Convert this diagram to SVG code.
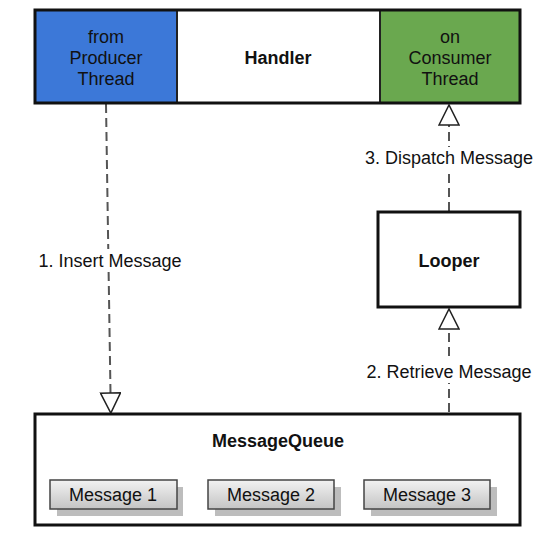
<svg xmlns="http://www.w3.org/2000/svg" width="558" height="546" viewBox="0 0 558 546">
<defs>
<linearGradient id="msgGrad" x1="0" y1="0" x2="0" y2="1">
<stop offset="0" stop-color="#f2f2f2"/>
<stop offset="1" stop-color="#c4c4c4"/>
</linearGradient>
<marker id="openTri" markerWidth="24" markerHeight="22" refX="1" refY="11" orient="auto" markerUnits="userSpaceOnUse">
<path d="M1,1 L21,11 L1,21 Z" fill="#fff" stroke="#222" stroke-width="1.5"/>
</marker>
</defs>
<style>
text{font-family:"Liberation Sans",Arial,sans-serif;fill:#111;}
.t{font-size:18px;text-anchor:middle;}
.b{font-size:18px;font-weight:bold;text-anchor:middle;}
.box{stroke:#111;stroke-width:3;}
.conn{stroke:#555;stroke-width:2;stroke-dasharray:9 5;fill:none;}
.msg{fill:url(#msgGrad);stroke:#444;stroke-width:1.5;}
.shadow{fill:#bdbdbd;}
.lbl{fill:#fff;}
</style>
<rect width="558" height="546" fill="#fff"/>
<g id="connectors">
<line class="conn" x1="106" y1="104" x2="110.5" y2="393" marker-end="url(#openTri)"/>
<line class="conn" x1="449" y1="211" x2="449" y2="125" marker-end="url(#openTri)"/>
<line class="conn" x1="449" y1="412" x2="449" y2="329" marker-end="url(#openTri)"/>
<rect class="lbl" x="34" y="249" width="152" height="22"/>
<text class="t" x="110" y="267">1. Insert Message</text>
<rect class="lbl" x="362" y="147" width="176" height="22"/>
<text class="t" x="449" y="164">3. Dispatch Message</text>
<rect class="lbl" x="362" y="361" width="176" height="22"/>
<text class="t" x="449" y="378">2. Retrieve Message</text>
</g>
<g id="handler">
<rect x="35" y="10" width="142" height="93" fill="#3c78d8"/>
<rect x="177" y="10" width="203" height="93" fill="#fff"/>
<rect x="380" y="10" width="140" height="93" fill="#6aa84f"/>
<line x1="177" y1="10" x2="177" y2="103" stroke="#222" stroke-width="2"/>
<line x1="380" y1="10" x2="380" y2="103" stroke="#222" stroke-width="2"/>
<rect class="box" x="35" y="10" width="485" height="93" fill="none"/>
<text class="t" x="106" y="43">from</text>
<text class="t" x="106" y="64">Producer</text>
<text class="t" x="106" y="85">Thread</text>
<text class="b" x="278" y="64">Handler</text>
<text class="t" x="450" y="43">on</text>
<text class="t" x="450" y="64">Consumer</text>
<text class="t" x="450" y="85">Thread</text>
</g>
<g id="looper">
<rect class="box" x="378" y="212" width="142" height="95" fill="#fff"/>
<text class="b" x="449" y="267">Looper</text>
</g>
<g id="messagequeue">
<rect class="box" x="35" y="414" width="485" height="111" fill="#fff"/>
<text class="b" x="278" y="447">MessageQueue</text>
</g>
<g id="message1">
<rect class="shadow" x="57" y="487" width="126" height="29"/>
<rect class="msg" x="50" y="480" width="127" height="29"/>
<text class="t" x="113" y="501">Message 1</text>
</g>
<g id="message2">
<rect class="shadow" x="215" y="487" width="126" height="29"/>
<rect class="msg" x="208" y="480" width="126" height="29"/>
<text class="t" x="271" y="501">Message 2</text>
</g>
<g id="message3">
<rect class="shadow" x="371" y="487" width="126" height="29"/>
<rect class="msg" x="364" y="480" width="126" height="29"/>
<text class="t" x="427" y="501">Message 3</text>
</g>
</svg>
